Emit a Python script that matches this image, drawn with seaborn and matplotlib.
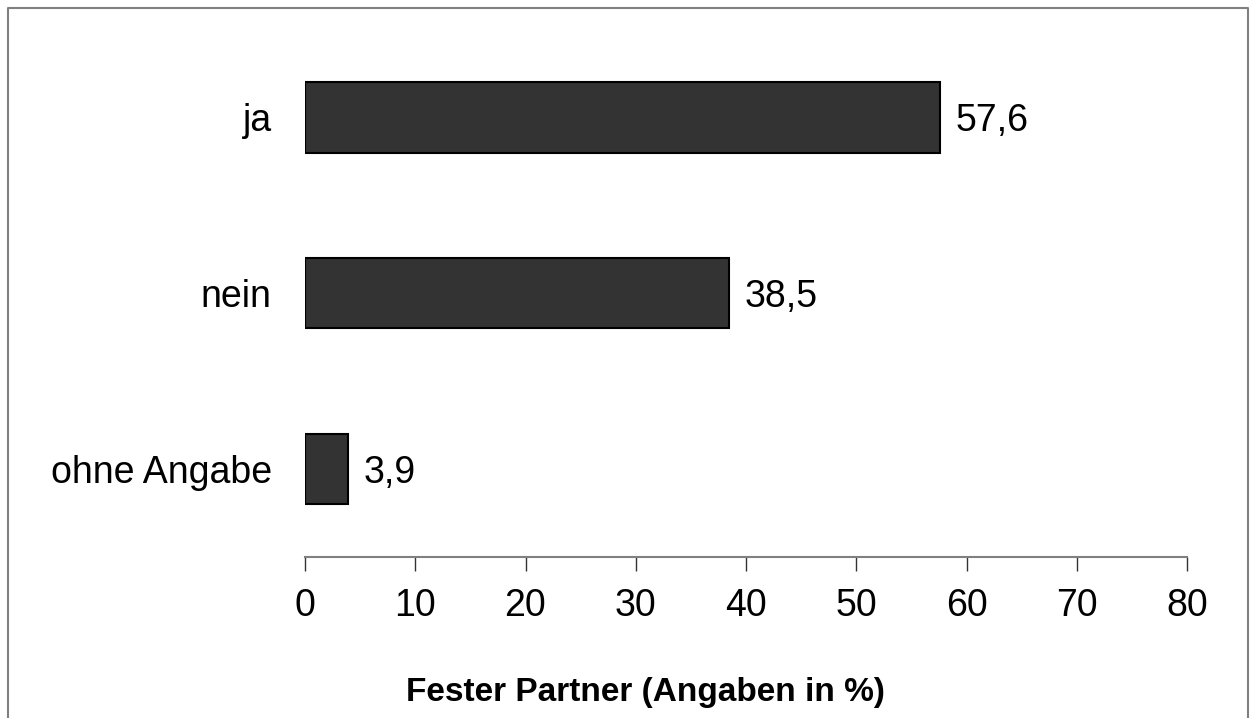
import numpy as np
import pandas as pd
import matplotlib
matplotlib.use('Agg')
import matplotlib.pyplot as plt
import seaborn as sns

# data
categories = ['ja', 'nein', 'ohne Angabe']
values = [57.6, 38.5, 3.9]
value_labels = ['57,6', '38,5', '3,9']
xticks = [0, 10, 20, 30, 40, 50, 60, 70, 80]
xlabel = 'Fester Partner (Angaben in %)'

df = pd.DataFrame({'category': categories, 'value': values})

sns.set_style('white')
plt.rcParams['font.family'] = ['Liberation Sans', 'DejaVu Sans']
plt.rcParams['text.color'] = 'black'
plt.rcParams['xtick.color'] = 'black'
plt.rcParams['ytick.color'] = 'black'

fig = plt.figure(figsize=(12.56, 7.18), dpi=100)
ax = fig.add_axes([305 / 1256, 1 - 557 / 718, (1187 - 305) / 1256, (557 - 29.5) / 718])

sns.barplot(data=df, x='value', y='category', orient='h', color='#333333',
            saturation=1, width=0.4, edgecolor='black', linewidth=1.5, ax=ax)

for bar, lab in zip(ax.patches, value_labels):
    ax.text(bar.get_width() + 1.4, bar.get_y() + bar.get_height() / 2 + 0.02, lab,
            va='center', ha='left', fontsize=27, color='black')

ax.set_xlim(0, 80)
ax.set_ylim(2.5, -0.5)
ax.set_xticks(xticks)
ax.set_xticklabels([str(t) for t in xticks], fontsize=27)
ax.tick_params(axis='x', bottom=True, direction='out', length=10, width=1,
               color='#333333', labelcolor='black', pad=12)
ax.tick_params(axis='y', left=False, length=0, pad=24, labelsize=27, labelcolor='black')
ax.set_xlabel('')
ax.set_ylabel('')

for s in ['top', 'right', 'left']:
    ax.spines[s].set_visible(False)
ax.spines['bottom'].set_color('#808080')
ax.spines['bottom'].set_linewidth(1.5)

fig.text(645 / 1256, 1 - 692 / 718, xlabel, ha='center', va='center',
         fontsize=24, fontweight='bold', color='black')

# outer frame (left, top, right)
fig.add_artist(plt.Line2D([8 / 1256, 8 / 1256, 1248 / 1256, 1248 / 1256],
                          [0, 1 - 8 / 718, 1 - 8 / 718, 0],
                          color='#808080', linewidth=1.5, transform=fig.transFigure))

fig.savefig('out.png', dpi=100)
